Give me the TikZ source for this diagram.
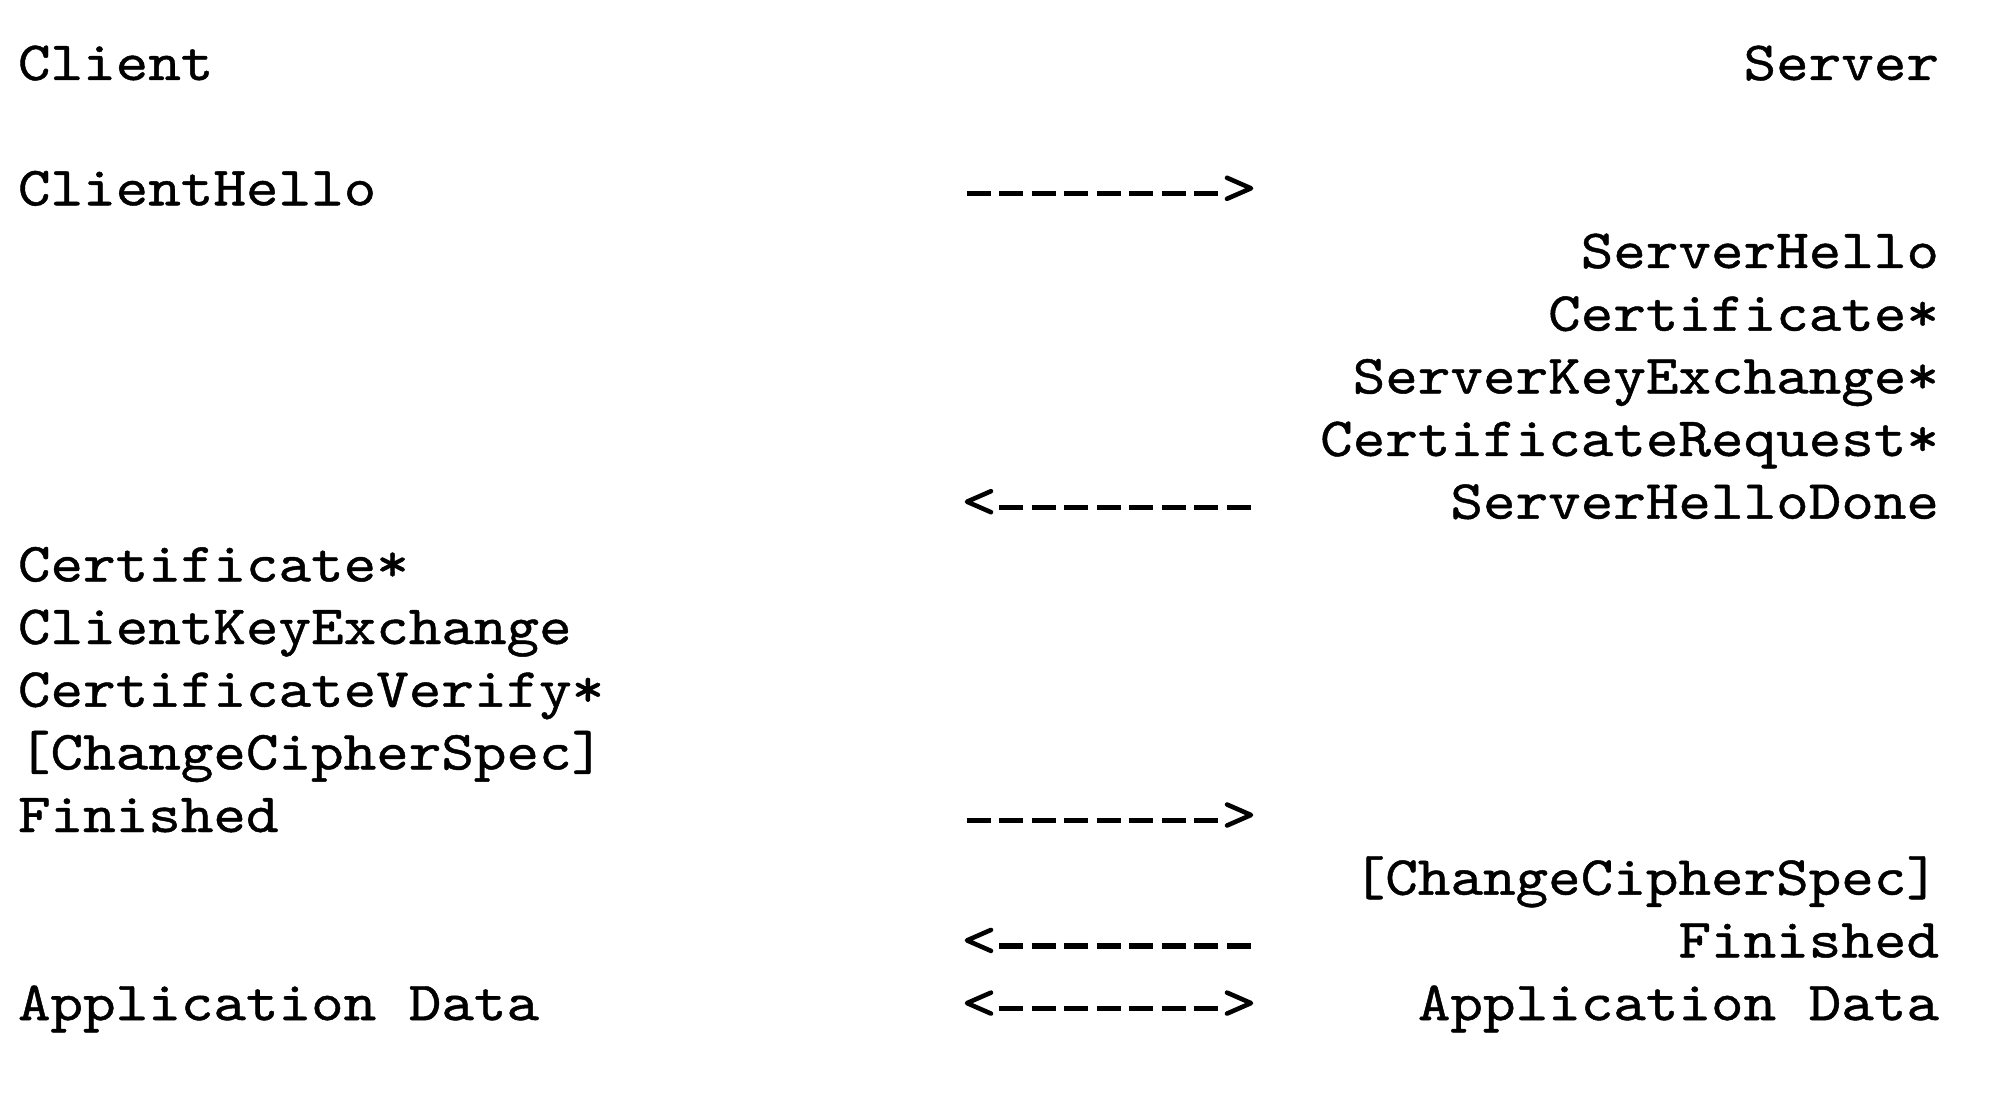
\documentclass[tikz,border=0pt]{standalone}
\usepackage{fontspec}
\newfontfamily\rfc{lmmono10-regular}[Extension=.otf,FakeStretch=1.12,FakeBold=0.8]
\begin{document}
\begin{tikzpicture}[x=1cm,y=1cm,
  txt/.style={inner sep=0pt, outer sep=0pt, text=black, font=\rfc\fontsize{15.76pt}{15.76pt}\selectfont},
  lft/.style={txt, anchor=base west},
  rgt/.style={txt, anchor=base east},
  dashrun/.style={line width=1.5pt, dash pattern=on 0.24cm off 0.0856cm, line cap=butt},
  chev/.style={line width=1.3pt, line cap=round, line join=round}
]
\fill[white] (0,0) rectangle (20,-11);
\useasboundingbox (0,0) rectangle (20,-11);

% left column (x = 0.18)
\node[lft] (client)  at (0.18,-0.800) {Client};
\node[lft] (chello)  at (0.18,-2.053) {ClientHello};
\node[lft] (ccert)   at (0.18,-5.814) {Certificate*};
\node[lft] (ckex)    at (0.18,-6.440) {ClientKeyExchange};
\node[lft] (cverify) at (0.18,-7.067) {CertificateVerify*};
\node[lft] (cccs)    at (0.18,-7.694) {[ChangeCipherSpec]};
\node[lft] (cfin)    at (0.18,-8.320) {Finished};
\node[lft] (cdata)   at (0.18,-10.201) {Application Data};

% right column (right edge x = 19.39)
\node[rgt] (server)  at (19.39,-0.800) {Server};
\node[rgt] (shello)  at (19.39,-2.680) {ServerHello};
\node[rgt] (scert)   at (19.39,-3.307) {Certificate*};
\node[rgt] (skex)    at (19.39,-3.934) {ServerKeyExchange*};
\node[rgt] (sreq)    at (19.39,-4.560) {CertificateRequest*};
\node[rgt] (sdone)   at (19.39,-5.187) {ServerHelloDone};
\node[rgt] (sccs)    at (19.39,-8.947) {[ChangeCipherSpec]};
\node[rgt] (sfin)    at (19.39,-9.574) {Finished};
\node[rgt] (sdata)   at (19.39,-10.201) {Application Data};

% arrow 1: -------->  (line 2)
\coordinate (a1s) at (9.6652,-1.938);
\coordinate (a1e) at (12.1844,-1.938);
\coordinate (a1t) at (12.51,-1.883);
\draw[dashrun] (a1s) -- (a1e);
\draw[chev] ([shift={(-0.24,0.105)}]a1t) -- (a1t) -- ([shift={(-0.24,-0.105)}]a1t);

% arrow 2: <--------  (line 7)
\coordinate (a2s) at (9.9908,-5.072);
\coordinate (a2e) at (12.51,-5.072);
\coordinate (a2t) at (9.67,-5.017);
\draw[dashrun] (a2s) -- (a2e);
\draw[chev] ([shift={(0.24,0.105)}]a2t) -- (a2t) -- ([shift={(0.24,-0.105)}]a2t);

% arrow 3: -------->  (line 12)
\coordinate (a3s) at (9.6652,-8.205);
\coordinate (a3e) at (12.1844,-8.205);
\coordinate (a3t) at (12.51,-8.150);
\draw[dashrun] (a3s) -- (a3e);
\draw[chev] ([shift={(-0.24,0.105)}]a3t) -- (a3t) -- ([shift={(-0.24,-0.105)}]a3t);

% arrow 4: <--------  (line 14)
\coordinate (a4s) at (9.9908,-9.459);
\coordinate (a4e) at (12.51,-9.459);
\coordinate (a4t) at (9.67,-9.404);
\draw[dashrun] (a4s) -- (a4e);
\draw[chev] ([shift={(0.24,0.105)}]a4t) -- (a4t) -- ([shift={(0.24,-0.105)}]a4t);

% arrow 5: <------->  (line 15)
\coordinate (a5s) at (9.9908,-10.086);
\coordinate (a5e) at (12.1844,-10.086);
\coordinate (a5l) at (9.67,-10.031);
\coordinate (a5r) at (12.51,-10.031);
\draw[dashrun] (a5s) -- (a5e);
\draw[chev] ([shift={(0.24,0.105)}]a5l) -- (a5l) -- ([shift={(0.24,-0.105)}]a5l);
\draw[chev] ([shift={(-0.24,0.105)}]a5r) -- (a5r) -- ([shift={(-0.24,-0.105)}]a5r);
\end{tikzpicture}
\end{document}
